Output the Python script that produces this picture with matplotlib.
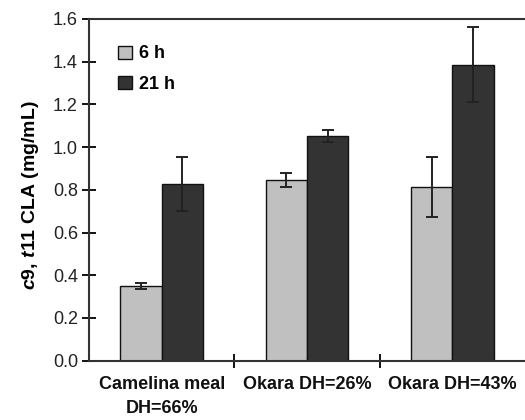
import matplotlib.pyplot as plt
import numpy as np

plt.rcParams["font.family"] = ["Liberation Sans", "DejaVu Sans"]
plt.rcParams["mathtext.fontset"] = "custom"
plt.rcParams["mathtext.bfit"] = "Liberation Sans:italic:bold"
plt.rcParams["mathtext.it"] = "Liberation Sans:italic:bold"

groups = ["Camelina meal\nDH=66%", "Okara DH=26%", "Okara DH=43%"]
series = ["6 h", "21 h"]
cla_6h = [0.35, 0.845, 0.812]
err_6h = [0.014, 0.032, 0.14]
cla_21h = [0.827, 1.052, 1.386]
err_21h = [0.125, 0.03, 0.175]
yticks = [0.0, 0.2, 0.4, 0.6, 0.8, 1.0, 1.2, 1.4, 1.6]

fig = plt.figure(figsize=(5.25, 4.2), dpi=100)
ax = fig.add_axes([0.1695, 0.1412, 0.8305, 0.8136])

x = np.arange(len(groups))
width = 0.285
err_kw = dict(ecolor="#222222", elinewidth=1.4, capsize=4.5, capthick=1.4)
ax.bar(x - width / 2, cla_6h, width, yerr=err_6h, color="#c0c0c0",
       edgecolor="#111111", linewidth=1.0, label=series[0], error_kw=err_kw)
ax.bar(x + width / 2, cla_21h, width, yerr=err_21h, color="#333333",
       edgecolor="#111111", linewidth=1.0, label=series[1], error_kw=err_kw)

ax.set_xlim(-0.5, 2.5)
ax.set_ylim(0, 1.6)
ax.set_yticks(yticks)
ax.set_yticklabels([f"{v:.1f}" for v in yticks], fontsize=13, color="#222222")
ax.set_xticks([0.5, 1.5])
ax.set_xticklabels([])
ax.tick_params(axis="y", direction="inout", length=10, width=1.3, pad=3)
ax.tick_params(axis="x", direction="inout", length=10, width=1.3)
for i, name in enumerate(groups):
    ax.text(i, -0.07, name, ha="center", va="top", fontsize=13,
            fontweight="bold", color="#111111", linespacing=1.6)

ax.set_ylabel(r"$\mathit{c}$9, $\mathit{t}$11 CLA (mg/mL)", fontsize=14,
              fontweight="bold")
ax.yaxis.set_label_coords(-0.11, 0.485)

for side in ["left", "top", "bottom"]:
    ax.spines[side].set_linewidth(1.5)
    ax.spines[side].set_color("#333333")
ax.spines["right"].set_visible(False)

ax.legend(loc="upper left", bbox_to_anchor=(0.03, 0.97), frameon=False,
          prop={"weight": "bold", "size": 13}, handlelength=0.75,
          handleheight=0.75, handletextpad=0.4, labelspacing=0.75)

fig.savefig("out.png", dpi=100)
